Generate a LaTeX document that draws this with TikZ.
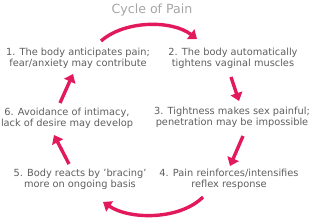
\documentclass[tikz,border=0pt]{standalone}
\usepackage{fontspec}
\setmainfont{DejaVu Sans}
\usetikzlibrary{arrows.meta}
\definecolor{cycpink}{HTML}{E2195B}
\definecolor{txtgray}{HTML}{5E5E5E}
\begin{document}
\begin{tikzpicture}[x=1pt,y=-1pt,>={Triangle[width=12pt,length=8pt]},
  stage/.style={text=txtgray,font=\fontsize{9.8}{11}\selectfont,align=center,inner sep=0pt},
  cyc/.style={->,line width=3.4pt,draw=cycpink}]
  \useasboundingbox (0,0) rectangle (318,221);
  \node[text=black!35,font=\fontsize{12.6}{14}\selectfont] (title) at (152,10) {Cycle of Pain};
  \node[stage] (s1) at (78,58.5) {1. The body anticipates pain;\\fear/anxiety may contribute};
  \node[stage] (s2) at (233,58.5) {2. The body automatically\\tightens vaginal muscles};
  \node[stage] (s3) at (232,117.5) {3. Tightness makes sex painful;\\penetration may be impossible};
  \node[stage] (s4) at (229,179.5) {4. Pain reinforces/intensifies\\reflex response};
  \node[stage] (s5) at (80,179.5) {5. Body reacts by 'bracing'\\more on ongoing basis};
  \node[stage] (s6) at (67,118) {6. Avoidance of intimacy,\\lack of desire may develop};
  % arrow ends
  \coordinate (a1) at (101,41);
  \coordinate (b1) at (197,39);
  \coordinate (a2) at (231,77);
  \coordinate (b2) at (239,101);
  \coordinate (a3) at (243,136);
  \coordinate (b3) at (230,166);
  \coordinate (a4) at (203,197);
  \coordinate (b4) at (103,202);
  \coordinate (a5) at (69,164);
  \coordinate (b5) at (54,135);
  \coordinate (a6) at (60,103);
  \coordinate (b6) at (73,74);
  \draw[cyc] (a1) .. controls (125,20) and (172,20) .. (b1);
  \draw[cyc] (a2) -- (b2);
  \draw[cyc] (a3) -- (b3);
  \draw[cyc] (a4) .. controls (180,220) and (130,220) .. (b4);
  \draw[cyc] (a5) -- (b5);
  \draw[cyc] (a6) -- (b6);
\end{tikzpicture}
\end{document}
